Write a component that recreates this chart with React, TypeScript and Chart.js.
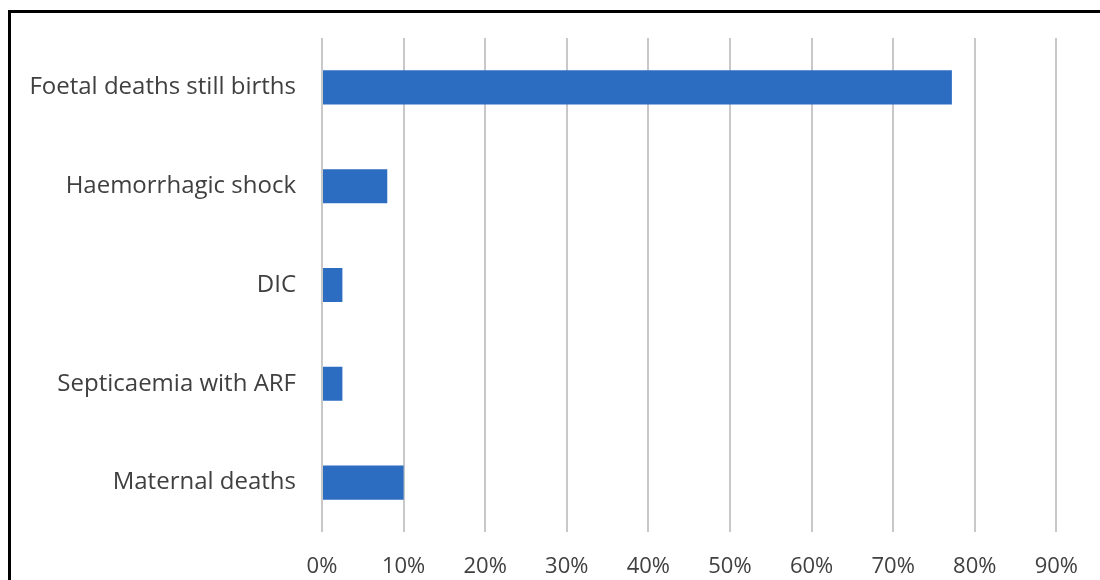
import React, { useEffect, useRef } from "react";
import { Chart, registerables } from "chart.js";

Chart.register(...registerables);

const categories = [
  "Foetal deaths still births",
  "Haemorrhagic shock",
  "DIC",
  "Septicaemia with ARF",
  "Maternal deaths",
];
const values = [77.2, 8, 2.5, 2.5, 10];
const tickLabels = ["0%", "10%", "20%", "30%", "40%", "50%", "60%", "70%", "80%", "90%"];

export default function App() {
  const ref = useRef<HTMLCanvasElement | null>(null);

  useEffect(() => {
    if (!ref.current) return;
    const chart = new Chart(ref.current, {
      type: "bar",
      data: {
        labels: categories,
        datasets: [
          {
            data: values,
            backgroundColor: "#2c6dc2",
            borderWidth: 0,
            categoryPercentage: 1,
            barPercentage: 0.345,
          },
        ],
      },
      options: {
        indexAxis: "y",
        animation: false,
        responsive: false,
        maintainAspectRatio: false,
        layout: { padding: { top: 38, right: 42, left: 0, bottom: 0 } },
        plugins: { legend: { display: false }, tooltip: { enabled: false } },
        scales: {
          x: {
            min: 0,
            max: 90,
            ticks: {
              stepSize: 10,
              color: "#404040",
              font: { family: "Open Sans", size: 22 },
              padding: 22,
              callback: (_v: any, i: number) => tickLabels[i],
            },
            grid: { color: "#c8c8c8", lineWidth: 2, drawTicks: false },
            border: { display: false },
            afterFit: (s: any) => {
              s.height = 48;
            },
          },
          y: {
            ticks: {
              color: "#404040",
              font: { family: "Open Sans", size: 24 },
              padding: 18,
            },
            grid: { display: false },
            border: { display: false },
            afterFit: (s: any) => {
              s.width = 322;
            },
          },
        },
      },
    });
    return () => chart.destroy();
  }, []);

  return (
    <div style={{ position: "fixed", left: 0, top: 0, width: 1100, height: 580, background: "#fff", overflow: "hidden" }}>
      <canvas ref={ref} width={1100} height={580} style={{ position: "absolute", left: 0, top: 0 }} />
      <div
        style={{
          position: "absolute",
          left: 8,
          top: 10,
          width: 1200,
          height: 700,
          borderTop: "3px solid #000",
          borderLeft: "3px solid #000",
          pointerEvents: "none",
        }}
      />
    </div>
  );
}
